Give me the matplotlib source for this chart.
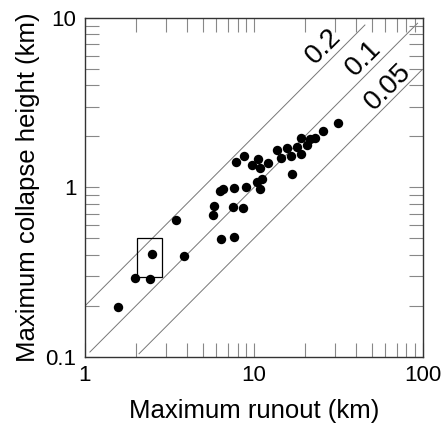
import matplotlib
matplotlib.use("Agg")
import matplotlib.pyplot as plt
from matplotlib.patches import Rectangle
from matplotlib.ticker import LogLocator, FixedFormatter, FixedLocator, NullFormatter

plt.rcParams['font.family'] = ['Liberation Sans', 'DejaVu Sans']

# runout (km) vs collapse height (km)
runout = [1.57, 1.98, 2.43, 2.5, 3.47, 3.84, 5.75, 5.82, 6.35, 6.27, 6.55,
          7.58, 7.48, 7.58, 7.82, 8.57, 8.69, 8.93, 9.77, 10.4, 10.6, 10.9,
          10.9, 11.2, 12.2, 13.7, 14.4, 15.7, 16.6, 16.7, 18.0, 18.9, 19.1,
          20.5, 21.4, 23.0, 25.8, 31.4]
height = [0.197, 0.291, 0.29, 0.403, 0.645, 0.396, 0.686, 0.78, 0.495, 0.957, 0.98,
          0.508, 0.767, 0.997, 1.41, 0.757, 1.54, 1.0, 1.36, 1.08, 1.47, 1.30,
          0.975, 1.12, 1.39, 1.66, 1.50, 1.71, 1.54, 1.20, 1.73, 1.57, 1.95,
          1.77, 1.92, 1.95, 2.16, 2.40]

# H/L ratio lines: ratio, x start, x end
ratios = [0.2, 0.1, 0.05]
ratio_x0 = [1.0, 1.07, 2.09]
ratio_x1 = [45.4, 93.0, 98.6]
ratio_labels = ["0.2", "0.1", "0.05"]
label_x = [26.0, 44.8, 62.0]
label_y = [6.75, 5.75, 3.9]

# box around the small events
box_x = [2.04, 2.87]
box_y = [0.295, 0.50]

fig = plt.figure(figsize=(4.47, 4.26), dpi=100)
ax = fig.add_axes([0.190, 0.162, 0.756, 0.796])
ax.set_xscale('log')
ax.set_yscale('log')
ax.set_xlim(1, 100)
ax.set_ylim(0.1, 10)

for r, a, b in zip(ratios, ratio_x0, ratio_x1):
    ax.plot([a, b], [r * a, r * b], color='#777777', lw=0.7, zorder=1)

for t, x, y in zip(ratio_labels, label_x, label_y):
    ax.text(x, y, t, rotation=45, ha='center', va='center', fontsize=20,
            rotation_mode='anchor')

ax.add_patch(Rectangle((box_x[0], box_y[0]), box_x[1] - box_x[0], box_y[1] - box_y[0],
                       fill=False, edgecolor='black', lw=0.9, zorder=2))

ax.scatter(runout, height, s=46, color='black', zorder=3, linewidths=0)

ax.xaxis.set_major_locator(FixedLocator([1, 10, 100]))
ax.xaxis.set_major_formatter(FixedFormatter(["1", "10", "100"]))
ax.yaxis.set_major_locator(FixedLocator([0.1, 1, 10]))
ax.yaxis.set_major_formatter(FixedFormatter(["0.1", "1", "10"]))
ax.xaxis.set_minor_locator(LogLocator(base=10, subs=range(2, 10)))
ax.yaxis.set_minor_locator(LogLocator(base=10, subs=range(2, 10)))
ax.xaxis.set_minor_formatter(NullFormatter())
ax.yaxis.set_minor_formatter(NullFormatter())

ax.tick_params(which='both', direction='in', top=True, right=True,
               length=10, width=0.8, color='#888888', labelsize=16, pad=6)

for s in ax.spines.values():
    s.set_linewidth(1.0)
    s.set_color('#333333')

ax.set_xlabel("Maximum runout (km)", fontsize=18.5, labelpad=9)
ax.set_ylabel("Maximum collapse height (km)", fontsize=18.5, labelpad=4)

fig.savefig("out.png", dpi=100)
